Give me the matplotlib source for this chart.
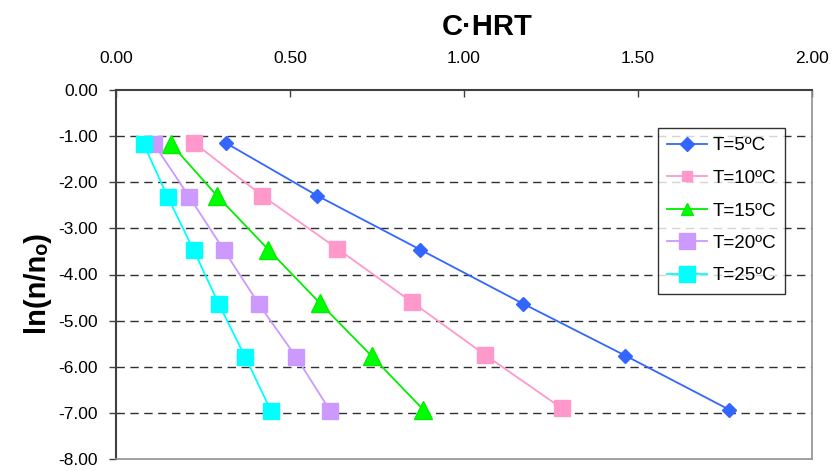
import matplotlib
matplotlib.use("Agg")
import matplotlib.pyplot as plt

plt.rcParams['font.family'] = ['Liberation Sans', 'DejaVu Sans']

series_labels = ['T=5ºC', 'T=10ºC', 'T=15ºC', 'T=20ºC', 'T=25ºC']

x_5 = [0.316, 0.578, 0.874, 1.169, 1.464, 1.762]
y_5 = [-1.15, -2.29, -3.46, -4.63, -5.76, -6.93]

x_10 = [0.225, 0.420, 0.636, 0.851, 1.060, 1.281]
y_10 = [-1.15, -2.29, -3.44, -4.60, -5.74, -6.90]

x_15 = [0.157, 0.291, 0.438, 0.586, 0.735, 0.883]
y_15 = [-1.16, -2.30, -3.46, -4.62, -5.77, -6.93]

x_20 = [0.110, 0.210, 0.310, 0.411, 0.517, 0.615]
y_20 = [-1.18, -2.31, -3.47, -4.65, -5.78, -6.95]

x_25 = [0.080, 0.148, 0.223, 0.296, 0.371, 0.445]
y_25 = [-1.18, -2.31, -3.47, -4.65, -5.78, -6.95]

x_ticks = [0.0, 0.5, 1.0, 1.5, 2.0]
y_ticks = [0, -1, -2, -3, -4, -5, -6, -7, -8]
grid_levels = [-1, -2, -3, -4, -5, -6, -7]

fig = plt.figure(figsize=(8.33, 4.71), dpi=100)
ax = fig.add_axes([116/833, 1 - 459/471, (812-116)/833, (459-90)/471])

for g in grid_levels:
    ax.axhline(g, color='#303030', lw=1.0, ls=(0, (6, 4)), zorder=1)

ax.plot(x_5, y_5, color='#3366FF', lw=1.3, marker='D', ms=7,
        mfc='#3366FF', mec='#3366FF', label=series_labels[0], zorder=3)
ax.plot(x_10, y_10, color='#FF99CC', lw=1.3, marker='s', ms=12,
        mfc='#FF99CC', mec='#FF99CC', label=series_labels[1], zorder=3)
ax.plot(x_15, y_15, color='#00EE00', lw=1.3, marker='^', ms=13,
        mfc='#00FF00', mec='#00EE00', label=series_labels[2], zorder=3)
ax.plot(x_20, y_20, color='#CC99FF', lw=1.3, marker='s', ms=11.5,
        mfc='#CC99FF', mec='#CC99FF', label=series_labels[3], zorder=3)
ax.plot(x_25, y_25, color='#00FFFF', lw=1.3, marker='s', ms=11.5,
        mfc='#00FFFF', mec='#00FFFF', label=series_labels[4], zorder=3)

ax.set_xlim(0, 2)
ax.set_ylim(-8, 0)
ax.xaxis.tick_top()
ax.set_xticks(x_ticks)
ax.set_xticklabels([f'{v:.2f}' for v in x_ticks])
ax.set_yticks(y_ticks)
ax.set_yticklabels([f'{v:.2f}' for v in y_ticks])
ax.tick_params(axis='x', direction='in', length=5, width=1, colors='#404040',
               labelcolor='black', labelsize=12.5, pad=17)
ax.tick_params(axis='y', direction='out', length=5, width=1, colors='#404040',
               labelcolor='black', labelsize=12.5, pad=8)

for s in ['top', 'left']:
    ax.spines[s].set_color('#404040')
    ax.spines[s].set_linewidth(1.5)
for s in ['right', 'bottom']:
    ax.spines[s].set_color('#909090')
    ax.spines[s].set_linewidth(1.2)

fig.text(487/833, 1 - 27/471, 'C·HRT', ha='center', va='center',
         fontsize=21, fontweight='bold')
fig.text(36/833, 1 - 282/471, 'ln(n/nₒ)', ha='center', va='center',
         rotation=90, fontsize=21, fontweight='bold')

leg = ax.legend(loc='upper left', bbox_to_anchor=((658-116)/696, 1 - (128-90)/369),
                fontsize=13.5, frameon=True, fancybox=False, edgecolor='black',
                handlelength=2.1, handletextpad=0.3, borderpad=0.5,
                labelspacing=0.82, borderaxespad=0)
leg.get_frame().set_linewidth(1.0)
for h, ms in zip(leg.legend_handles, [7, 7, 8.5, 11.5, 11.5]):
    h.set_markersize(ms)

fig.savefig('out.png', dpi=100)
